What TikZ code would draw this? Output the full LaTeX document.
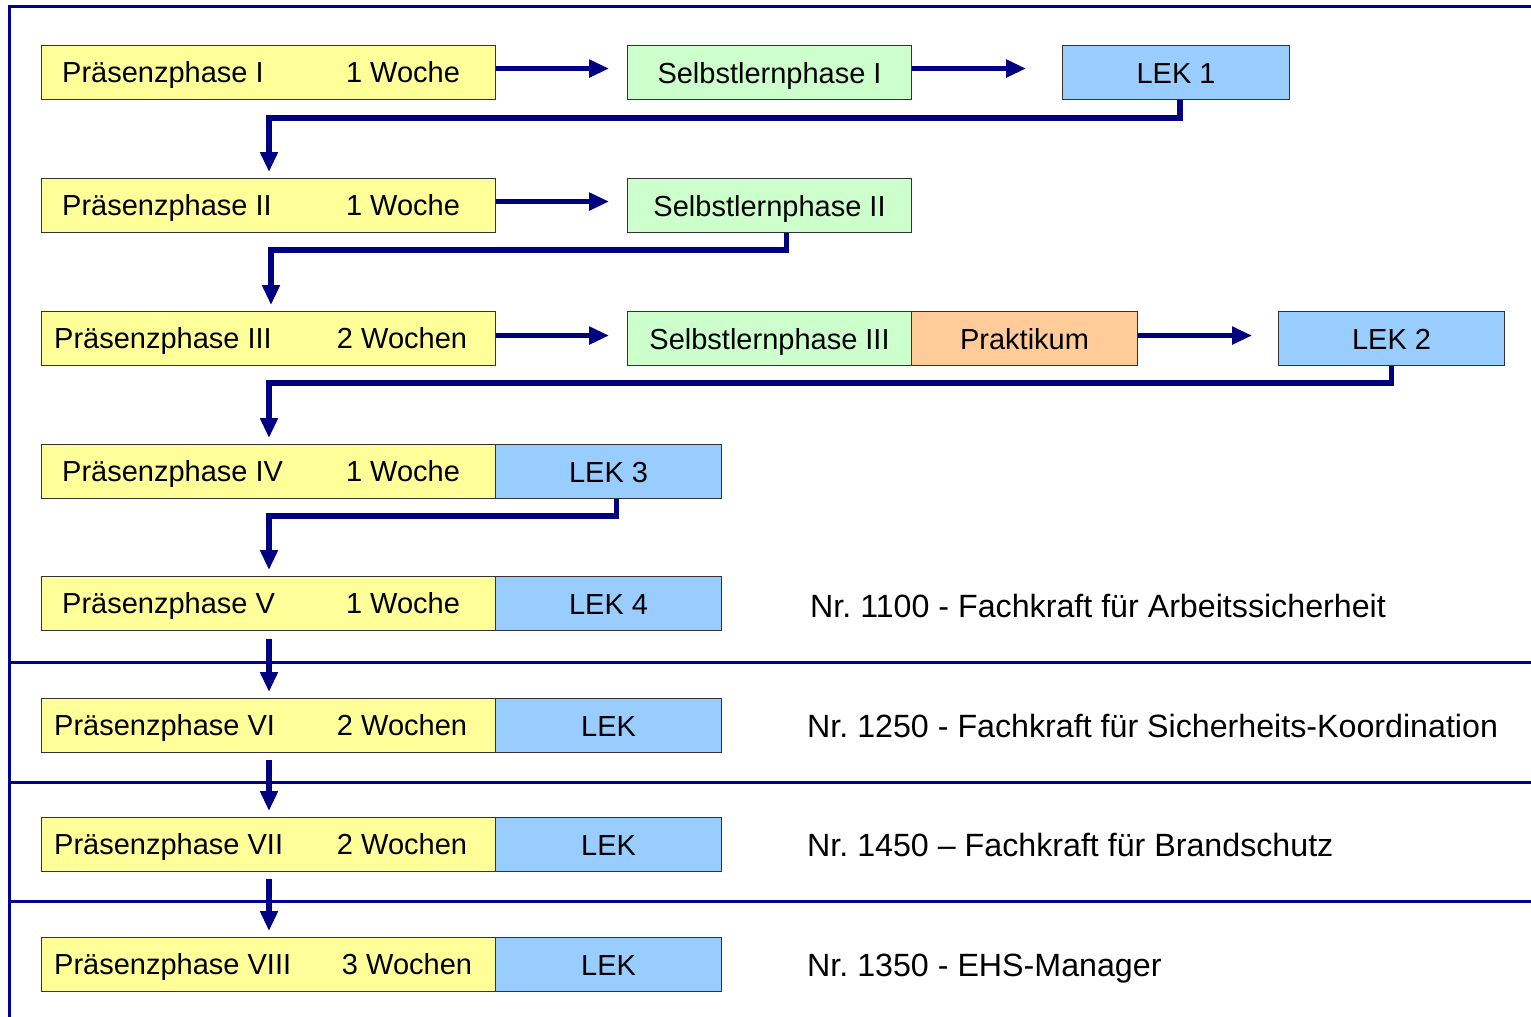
\documentclass[tikz,border=0pt]{standalone}
\usepackage{fontspec}
\setmainfont{Liberation Sans}
\usetikzlibrary{arrows.meta}
\definecolor{fy}{HTML}{FFFF99}
\definecolor{fg}{HTML}{CCFFCC}
\definecolor{fb}{HTML}{99CCFF}
\definecolor{fo}{HTML}{FFCC99}
\definecolor{navyline}{RGB}{0,0,150}
\definecolor{navyarrow}{RGB}{0,0,128}
\tikzset{
  box/.style={draw=black!80, line width=1.1pt, anchor=north west, inner sep=0pt, minimum height=54pt,
    font=\fontsize{29}{34}\selectfont, text height=21pt, text depth=0pt},
  ybox/.style={box, fill=fy, minimum width=454pt},
  gbox/.style={box, fill=fg, minimum width=284pt},
  bbox/.style={box, fill=fb, minimum width=226pt},
  obox/.style={box, fill=fo, minimum width=226pt},
  lbl/.style={inner sep=0pt, font=\fontsize{29}{34}\selectfont},
  rlbl/.style={inner sep=0pt, font=\fontsize{32.2}{36}\selectfont, anchor=base west},
  conn/.style={draw=navyarrow, line width=5.8pt, -{Triangle[length=20pt,width=17pt]}},
  frame/.style={draw=navyline, line width=3pt},
}
\begin{document}
\frenchspacing
\begin{tikzpicture}[x=1pt,y=-1pt]
\useasboundingbox (0,0) rectangle (1531,1017);
% frame
\draw[frame] (9,1017) -- (9,6) -- (1531,6);
\draw[frame] (9,662) -- (1531,662);
\draw[frame] (9,782) -- (1531,782);
\draw[frame] (9,901) -- (1531,901);

% row 1
\node[ybox] (p1) at (41,45) {};
\node[lbl, anchor=base west] (p1t) at (62,82) {Präsenzphase I};
\node[lbl, anchor=base] (p1d) at (403,82) {1 Woche};
\node[gbox] (s1) at (627,45) {Selbstlernphase I};
\node[bbox, minimum width=227pt] (l1) at (1062,45) {LEK 1};
% row 2
\node[ybox] (p2) at (41,178) {};
\node[lbl, anchor=base west] (p2t) at (62,215) {Präsenzphase II};
\node[lbl, anchor=base] (p2d) at (403,215) {1 Woche};
\node[gbox] (s2) at (627,178) {Selbstlernphase II};
% row 3
\node[ybox] (p3) at (41,311) {};
\node[lbl, anchor=base west] (p3t) at (54,348) {Präsenzphase III};
\node[lbl, anchor=base] (p3d) at (402,348) {2 Wochen};
\node[gbox] (s3) at (627,311) {Selbstlernphase III};
\node[obox] (pr) at (911,311) {Praktikum};
\node[bbox] (l2) at (1278,311) {LEK 2};
% row 4
\node[ybox] (p4) at (41,444) {};
\node[lbl, anchor=base west] (p4t) at (62,481) {Präsenzphase IV};
\node[lbl, anchor=base] (p4d) at (403,481) {1 Woche};
\node[bbox] (l3) at (495,444) {LEK 3};
% row 5
\node[ybox] (p5) at (41,576) {};
\node[lbl, anchor=base west] (p5t) at (62,613) {Präsenzphase V};
\node[lbl, anchor=base] (p5d) at (403,613) {1 Woche};
\node[bbox] (l4) at (495,576) {LEK 4};
\node[rlbl] (n1) at (810,617) {Nr. 1100 - Fachkraft für Arbeitssicherheit};
% row 6
\node[ybox] (p6) at (41,698) {};
\node[lbl, anchor=base west] (p6t) at (54,735) {Präsenzphase VI};
\node[lbl, anchor=base] (p6d) at (402,735) {2 Wochen};
\node[bbox] (l5) at (495,698) {LEK};
\node[rlbl] (n2) at (807,737) {Nr. 1250 - Fachkraft für Sicherheits-Koordination};
% row 7
\node[ybox] (p7) at (41,817) {};
\node[lbl, anchor=base west] (p7t) at (54,854) {Präsenzphase VII};
\node[lbl, anchor=base] (p7d) at (402,854) {2 Wochen};
\node[bbox] (l6) at (495,817) {LEK};
\node[rlbl] (n3) at (807,856) {Nr. 1450 – Fachkraft für Brandschutz};
% row 8
\node[ybox] (p8) at (41,937) {};
\node[lbl, anchor=base west] (p8t) at (54,974) {Präsenzphase VIII};
\node[lbl, anchor=base] (p8d) at (407,974) {3 Wochen};
\node[bbox] (l7) at (495,937) {LEK};
\node[rlbl] (n4) at (807,976) {Nr. 1350 - EHS-Manager};

% horizontal arrows
\draw[conn] ([yshift=4pt]p1.east) -- ([xshift=113pt,yshift=4pt]p1.east);
\draw[conn] ([yshift=4pt]s1.east) -- ([xshift=114pt,yshift=4pt]s1.east);
\draw[conn] ([yshift=4pt]p2.east) -- ([xshift=113pt,yshift=4pt]p2.east);
\draw[conn] ([yshift=3pt]p3.east) -- ([xshift=113pt,yshift=3pt]p3.east);
\draw[conn] ([yshift=3pt]pr.east) -- ([xshift=114pt,yshift=3pt]pr.east);

% return connectors
\draw[conn] ([xshift=4pt]l1.south) -- ++(0,18) -| ([xshift=228pt,yshift=6pt]p2.north west);
\draw[conn] ([xshift=17pt]s2.south) -- ++(0,17) -| ([xshift=230pt,yshift=6pt]p3.north west);
\draw[conn] (l2.south) -- ++(0,17) -| ([xshift=228pt,yshift=6pt]p4.north west);
\draw[conn] ([xshift=8pt]l3.south) -- ++(0,17) -| ([xshift=228pt,yshift=6pt]p5.north west);

% vertical arrows
\draw[conn] ([xshift=228pt,yshift=-8pt]p5.south west) -- ([xshift=228pt,yshift=6pt]p6.north west);
\draw[conn] ([xshift=228pt,yshift=-7pt]p6.south west) -- ([xshift=228pt,yshift=6pt]p7.north west);
\draw[conn] ([xshift=228pt,yshift=-7pt]p7.south west) -- ([xshift=228pt,yshift=6pt]p8.north west);
\end{tikzpicture}
\end{document}
